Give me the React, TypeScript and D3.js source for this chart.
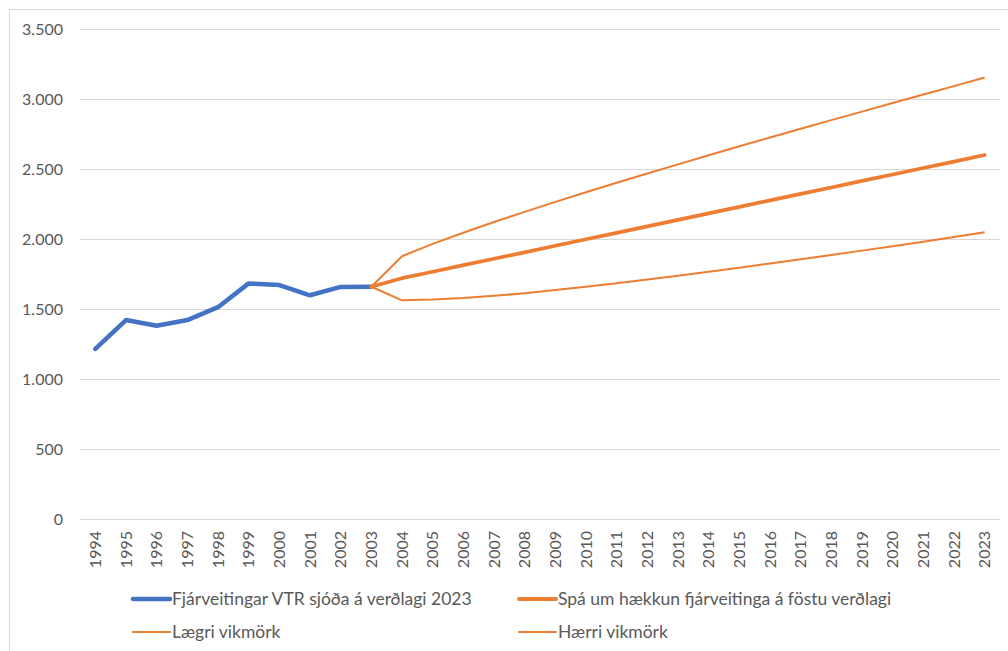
import React from "react";
import * as d3 from "d3";

const years = [
  "1994", "1995", "1996", "1997", "1998", "1999", "2000", "2001", "2002", "2003",
  "2004", "2005", "2006", "2007", "2008", "2009", "2010", "2011", "2012", "2013",
  "2014", "2015", "2016", "2017", "2018", "2019", "2020", "2021", "2022", "2023",
];

const histYears = ["1994", "1995", "1996", "1997", "1998", "1999", "2000", "2001", "2002", "2003"];
const histValues = [1215, 1421, 1380, 1421, 1513, 1683, 1671, 1598, 1658, 1659];

const fcYears = [
  "2003", "2004", "2005", "2006", "2007", "2008", "2009", "2010", "2011", "2012", "2013",
  "2014", "2015", "2016", "2017", "2018", "2019", "2020", "2021", "2022", "2023",
];
const midValues = [1659, 1720, 1766, 1813, 1859, 1905, 1952, 1998, 2044, 2090, 2137, 2183, 2229, 2276, 2322, 2368, 2415, 2461, 2507, 2553, 2600];
const upperValues = [1659, 1877, 1965, 2045, 2121, 2194, 2265, 2334, 2402, 2468, 2533, 2598, 2662, 2725, 2787, 2849, 2910, 2971, 3032, 3092, 3154];
const lowerValues = [1659, 1562, 1567, 1578, 1594, 1613, 1635, 1659, 1684, 1711, 1738, 1766, 1795, 1825, 1855, 1886, 1917, 1949, 1981, 2014, 2049];

const yTicks = [0, 500, 1000, 1500, 2000, 2500, 3000, 3500];

const seriesNames = [
  "Fjárveitingar VTR sjóða á verðlagi 2023",
  "Spá um hækkun fjárveitinga á föstu verðlagi",
  "Lægri vikmörk",
  "Hærri vikmörk",
];

const BLUE = "#4472C4";
const ORANGE = "#ED7D31";
const TEXT = "#595959";
const GRID = "#D9D9D9";
const FONT = "Lato, 'Open Sans', sans-serif";

export default function App() {
  const W = 1008;
  const H = 651;
  const x = d3.scalePoint<string>().domain(years).range([80, 1000]).padding(0.5);
  const y = d3.scaleLinear().domain([0, 3500]).range([519, 29]);

  const fmt = (v: number) => d3.format(",")(v).replace(/,/g, ".");

  const lineHist = d3
    .line<number>()
    .x((_, i) => x(histYears[i]) as number)
    .y((d) => y(d));
  const lineFc = d3
    .line<number>()
    .x((_, i) => x(fcYears[i]) as number)
    .y((d) => y(d));

  const legend = [
    { name: seriesNames[0], color: BLUE, w: 4.5, lx: 133, ly: 599 },
    { name: seriesNames[1], color: ORANGE, w: 4, lx: 519, ly: 599 },
    { name: seriesNames[2], color: ORANGE, w: 2, lx: 133, ly: 632 },
    { name: seriesNames[3], color: ORANGE, w: 2, lx: 519, ly: 632 },
  ];

  return (
    <svg
      width={W}
      height={H}
      style={{ position: "absolute", left: 0, top: 0, background: "#fff" }}
      fontFamily={FONT}
    >
      <rect x={9.5} y={9.5} width={1010} height={660} fill="#fff" stroke={GRID} strokeWidth={1} />
      {yTicks.map((t) => (
        <g key={t}>
          <line x1={80} x2={1000} y1={Math.round(y(t)) + 0.5} y2={Math.round(y(t)) + 0.5} stroke={GRID} strokeWidth={1} />
          <text x={63} y={y(t)} dy="0.36em" textAnchor="end" fontSize={16} fill={TEXT}>
            {fmt(t)}
          </text>
        </g>
      ))}
      {years.map((yr) => (
        <text
          key={yr}
          transform={`translate(${(x(yr) as number) + 5.5},${531}) rotate(-90)`}
          textAnchor="end"
          fontSize={16}
          fill={TEXT}
        >
          {yr}
        </text>
      ))}
      <path d={lineHist(histValues) || ""} fill="none" stroke={BLUE} strokeWidth={4.5} strokeLinejoin="round" strokeLinecap="round" />
      <path d={lineFc(upperValues) || ""} fill="none" stroke={ORANGE} strokeWidth={2} strokeLinejoin="round" />
      <path d={lineFc(lowerValues) || ""} fill="none" stroke={ORANGE} strokeWidth={2} strokeLinejoin="round" />
      <path d={lineFc(midValues) || ""} fill="none" stroke={ORANGE} strokeWidth={3.75} strokeLinejoin="round" strokeLinecap="round" />
      {legend.map((l) => (
        <g key={l.name}>
          <line x1={l.lx} x2={l.lx + 37} y1={l.ly} y2={l.ly} stroke={l.color} strokeWidth={l.w} strokeLinecap="round" />
          <text x={l.lx + 39} y={l.ly} dy="0.36em" fontSize={17.5} fill={TEXT}>
            {l.name}
          </text>
        </g>
      ))}
    </svg>
  );
}
